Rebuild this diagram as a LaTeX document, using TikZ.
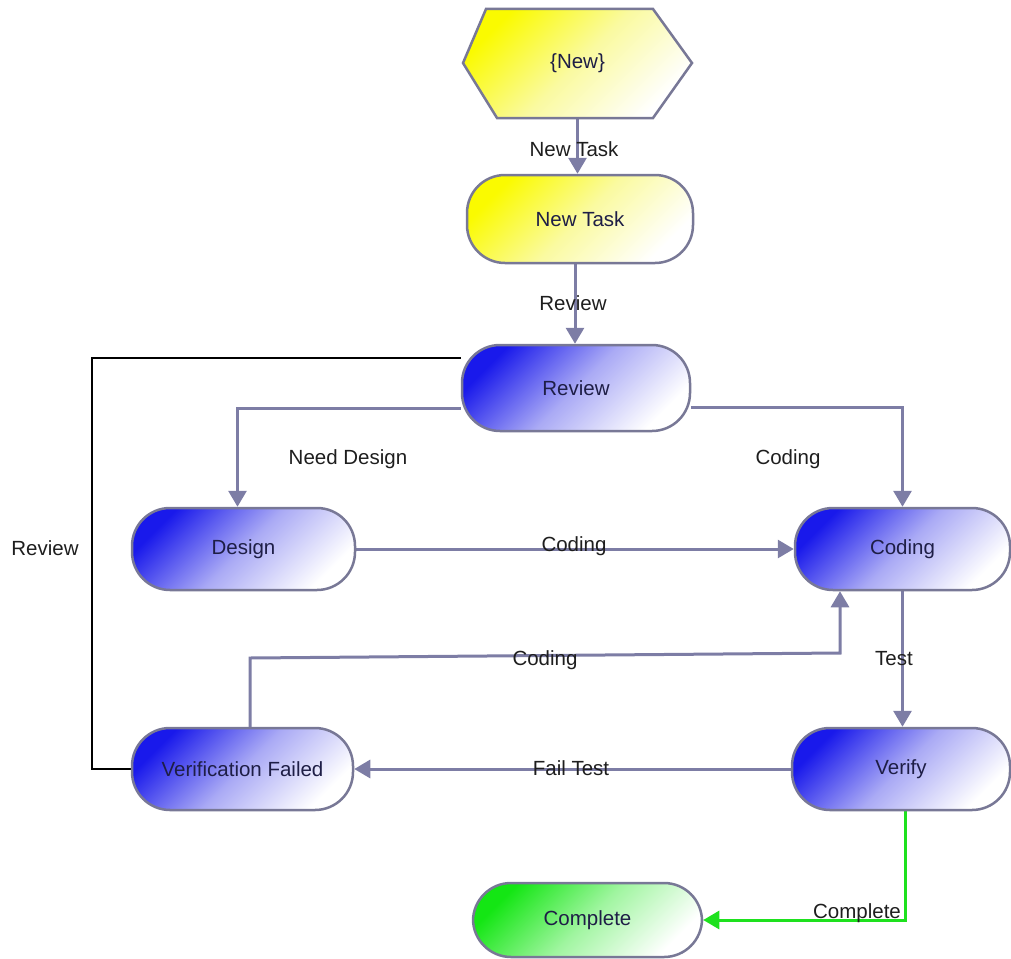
\documentclass[tikz,border=0pt]{standalone}
\usepackage{fontspec}
\setmainfont{Liberation Sans}
\usetikzlibrary{arrows.meta,backgrounds,calc}
\definecolor{bordc}{RGB}{120,120,150}
\definecolor{edgec}{RGB}{125,125,165}
\definecolor{bluec}{RGB}{25,25,235}
\definecolor{midblue}{RGB}{170,170,245}
\definecolor{yellowc}{RGB}{250,250,0}
\definecolor{midyellow}{RGB}{250,250,160}
\definecolor{greenc}{RGB}{20,230,20}
\definecolor{midgreen}{RGB}{160,245,160}
\definecolor{greenedge}{RGB}{30,225,30}
\definecolor{nodetext}{RGB}{30,30,70}
\definecolor{labtext}{RGB}{30,30,30}
\begin{document}
\begin{tikzpicture}[x=1pt,y=-1pt,font=\fontsize{20.5}{24}\selectfont,
  box/.style={draw=bordc,line width=2.5pt,rounded corners=38pt,text=nodetext,inner sep=0pt,minimum height=84pt},
  blueshade/.style={top color=bluec,bottom color=white,middle color=midblue,shading angle=45},
  yellowshade/.style={top color=yellowc,bottom color=white,middle color=midyellow,shading angle=45},
  greenshade/.style={top color=greenc,bottom color=white,middle color=midgreen,shading angle=45},
  flow/.style={draw=edgec,line width=3pt,-{Triangle[length=16pt,width=18pt]}},
  backline/.style={draw=black,line width=1.5pt},
  doneflow/.style={draw=greenedge,line width=3pt,-{Triangle[length=16pt,width=18pt]}},
  lab/.style={text=labtext,inner sep=0pt}]
\useasboundingbox (0,0) rectangle (1011,958);

% hexagon start node
\path[draw=bordc,line width=2.5pt,yellowshade] (486,9) -- (653,9) -- (692,63) -- (653,118) -- (497,118) -- (463,63) -- cycle;
\node[inner sep=0pt,minimum width=229pt,minimum height=109pt,text=nodetext] (new) at (577.5,63.5) {\{New\}};

\node[box,yellowshade,minimum width=226pt,minimum height=88pt] (task) at (580,219) {New Task};
\node[box,blueshade,minimum width=228pt,minimum height=86pt] (rev) at (576,388) {Review};
\node[box,blueshade,minimum width=223pt,minimum height=82pt] (des) at (243.5,549) {Design};
\node[box,blueshade,minimum width=215pt,minimum height=82pt] (cod) at (902.5,549) {Coding};
\node[box,blueshade,minimum width=221pt,minimum height=82pt] (vf) at (242.5,769) {Verification Failed};
\node[box,blueshade,minimum width=218pt,minimum height=82pt] (ver) at (901,769) {Verify};
\node[box,greenshade,minimum width=229pt,minimum height=74pt] (comp) at (587.5,920) {Complete};

\coordinate (vfup) at (250,658);
\coordinate (vfright) at (840,653);
\coordinate (leftbot) at (92,769);
\coordinate (lefttop) at (92,358);

\begin{scope}[on background layer]
\draw[flow] (new.south) -- (new.south |- task.north);
\draw[flow] ([xshift=-5pt]task.south) -- ([xshift=-5pt]task.south |- rev.north);
\draw[flow] ([yshift=-20pt]rev.west) -| ([xshift=-6pt]des.north);
\draw[flow] ([yshift=-19pt]rev.east) -| (cod.north);
\draw[flow] (des.east) -- (cod.west);
\draw[flow] (cod.south) -- (cod.south |- ver.north);
\draw[flow] (vfup |- vf.north) -- (vfup) -- (vfright) -- (vfright |- cod.south);
\draw[flow] (ver.west) -- (vf.east);
\draw[backline] (vf.west) -- (leftbot) -- (lefttop) -- (rev.west |- lefttop);
\draw[doneflow] ([xshift=4pt]ver.south) |- (comp.east);
\end{scope}

\node[lab] (l1) at (574,149) {New Task};
\node[lab] (l2) at (573,303) {Review};
\node[lab] (l3) at (348,459) {Need Design};
\node[lab] (l4) at (788,459) {Coding};
\node[lab] (l5) at (574,546) {Coding};
\node[lab] (l6) at (894,659) {Test};
\node[lab] (l7) at (545,660) {Coding};
\node[lab] (l8) at (571,768) {Fail Test};
\node[lab] (l9) at (45,548) {Review};
\node[lab] (l10) at (857,913) {Complete};
\end{tikzpicture}
\end{document}
